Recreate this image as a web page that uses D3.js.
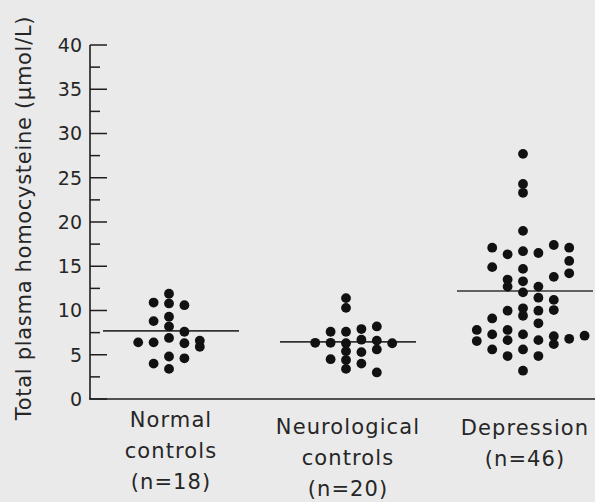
<!DOCTYPE html>
<html>
<head>
<meta charset="utf-8">
<script src="https://cdn.jsdelivr.net/npm/d3@7"></script>
<style>
  html, body { margin: 0; padding: 0; background: #eaeaea; }
  svg { display: block; }
</style>
</head>
<body>
<div id="chart"></div>
<script>
// ---------------- DATA ----------------
const categories = ["Normal controls", "Neurological controls", "Depression"];
const categoryLabelLines = [
  ["Normal", "controls", "(n=18)"],
  ["Neurological", "controls", "(n=20)"],
  ["Depression", "(n=46)"]
];

// Homocysteine values (µmol/L) and their column slot within the dot plot
const normalValues = [11.9, 10.9, 10.8, 10.6, 8.8, 9.3, 8.2, 7.6, 6.4, 6.4, 6.9, 6.3, 6.6, 5.9, 4.8, 4.6, 4.0, 3.4];
const normalSlots  = [0, -1, 0, 1, -1, 0, 0, 1, -2, -1, 0, 1, 2, 2, 0, 1, -1, 0];

const neuroValues = [11.4, 10.3, 7.6, 7.6, 7.9, 8.2, 6.35, 6.35, 6.3, 6.7, 6.6, 6.3, 5.4, 5.3, 5.6, 4.5, 4.4, 4.0, 3.4, 3.0];
const neuroSlots  = [0, 0, -1, 0, 1, 2, -2, -1, 0, 1, 2, 3, 0, 1, 2, -1, 0, 1, 0, 2];

const depressionValues = [27.7, 24.3, 23.3, 19.0, 17.1, 16.35, 16.7, 16.5, 17.4, 17.1,
  14.9, 14.7, 15.6, 14.2, 13.8, 13.5, 13.3, 12.7, 12.7, 12.05,
  11.45, 11.2, 9.98, 10.25, 9.4, 9.98, 10.05, 9.1, 8.55, 7.8,
  6.55, 7.3, 7.8, 6.65, 7.3, 6.65, 7.1, 6.2, 6.8, 7.15,
  5.6, 4.85, 5.6, 4.85, 3.2];
const depressionSlots = [0, 0, 0, 0, -2, -1, 0, 1, 2, 3,
  -2, 0, 3, 3, 2, -1, 0, -1, 1, 0,
  1, 2, -1, 0, 0, 1, 2, -2, 1, -3,
  -3, -2, -1, -1, 0, 1, 2, 2, 3, 4,
  -2, -1, 0, 1, 0];

const groupMeans = [7.7, 6.45, 12.2];

const yMajorTicks = [0, 5, 10, 15, 20, 25, 30, 35, 40];
const yMinorTicks = [2.5, 7.5, 12.5, 17.5, 22.5, 27.5, 32.5, 37.5];
const yTitle = "Total plasma homocysteine (µmol/L)";

// ---------------- LAYOUT ----------------
const W = 595, H = 502;
const axisX = 90;
const ink = "#1e1e1e";
const textColor = "#262626";
const fontFamily = "'DejaVu Sans', Verdana, sans-serif";
const slotWidth = 15.4;
const dotR = 4.9;

const svg = d3.select("#chart").append("svg")
  .attr("width", W).attr("height", H)
  .style("background", "#eaeaea");

const y = d3.scaleLinear().domain([0, 40]).range([399, 45]);
const x = d3.scalePoint().domain(categories).range([169, 523]);

// Y axis line
svg.append("line")
  .attr("x1", axisX).attr("x2", axisX)
  .attr("y1", y(40)).attr("y2", y(0))
  .attr("stroke", ink).attr("stroke-width", 1.6);

// X baseline
svg.append("line")
  .attr("x1", axisX - 1).attr("x2", W)
  .attr("y1", y(0)).attr("y2", y(0))
  .attr("stroke", ink).attr("stroke-width", 1.6);

// Major ticks (inward)
svg.selectAll("line.major").data(yMajorTicks).join("line")
  .attr("class", "major")
  .attr("x1", axisX).attr("x2", axisX + 17)
  .attr("y1", d => y(d)).attr("y2", d => y(d))
  .attr("stroke", ink).attr("stroke-width", 1.5);

// Minor ticks
svg.selectAll("line.minor").data(yMinorTicks).join("line")
  .attr("class", "minor")
  .attr("x1", axisX).attr("x2", axisX + 10)
  .attr("y1", d => y(d)).attr("y2", d => y(d))
  .attr("stroke", ink).attr("stroke-width", 1.5);

// Tick labels
svg.selectAll("text.ytick").data(yMajorTicks).join("text")
  .attr("class", "ytick")
  .attr("x", axisX - 8)
  .attr("y", d => y(d))
  .attr("dy", "0.36em")
  .attr("text-anchor", "end")
  .attr("font-family", fontFamily)
  .attr("font-size", 19)
  .attr("fill", textColor)
  .text(d => d);

// Y title
svg.append("text")
  .attr("transform", `translate(31, 218) rotate(-90)`)
  .attr("text-anchor", "middle")
  .attr("font-family", fontFamily)
  .attr("font-size", 21)
  .attr("letter-spacing", 0.7)
  .attr("fill", textColor)
  .text(yTitle);

// Mean lines
svg.selectAll("line.mean").data(categories).join("line")
  .attr("class", "mean")
  .attr("x1", d => x(d) - 66).attr("x2", d => x(d) + 70)
  .attr("y1", (d, i) => y(groupMeans[i])).attr("y2", (d, i) => y(groupMeans[i]))
  .attr("stroke", "#333").attr("stroke-width", 1.6);

// Dots
const groups = [
  { cat: categories[0], values: normalValues, slots: normalSlots },
  { cat: categories[1], values: neuroValues, slots: neuroSlots },
  { cat: categories[2], values: depressionValues, slots: depressionSlots }
];
const points = groups.flatMap(g => g.values.map((v, i) => ({ cat: g.cat, v, slot: g.slots[i] })));
svg.selectAll("circle.dot").data(points).join("circle")
  .attr("class", "dot")
  .attr("cx", d => x(d.cat) + d.slot * slotWidth)
  .attr("cy", d => y(d.v))
  .attr("r", dotR)
  .attr("fill", "#111");

// Category labels
const firstBaseline = [427, 434, 435];
const lineStep = 31;
categories.forEach((c, i) => {
  svg.append("g").selectAll("text").data(categoryLabelLines[i]).join("text")
    .attr("x", x(c) + 2)
    .attr("y", (d, k) => firstBaseline[i] + k * lineStep)
    .attr("text-anchor", "middle")
    .attr("font-family", fontFamily)
    .attr("font-size", 21)
    .attr("letter-spacing", 1.1)
    .attr("fill", textColor)
    .text(d => d);
});
</script>
</body>
</html>
